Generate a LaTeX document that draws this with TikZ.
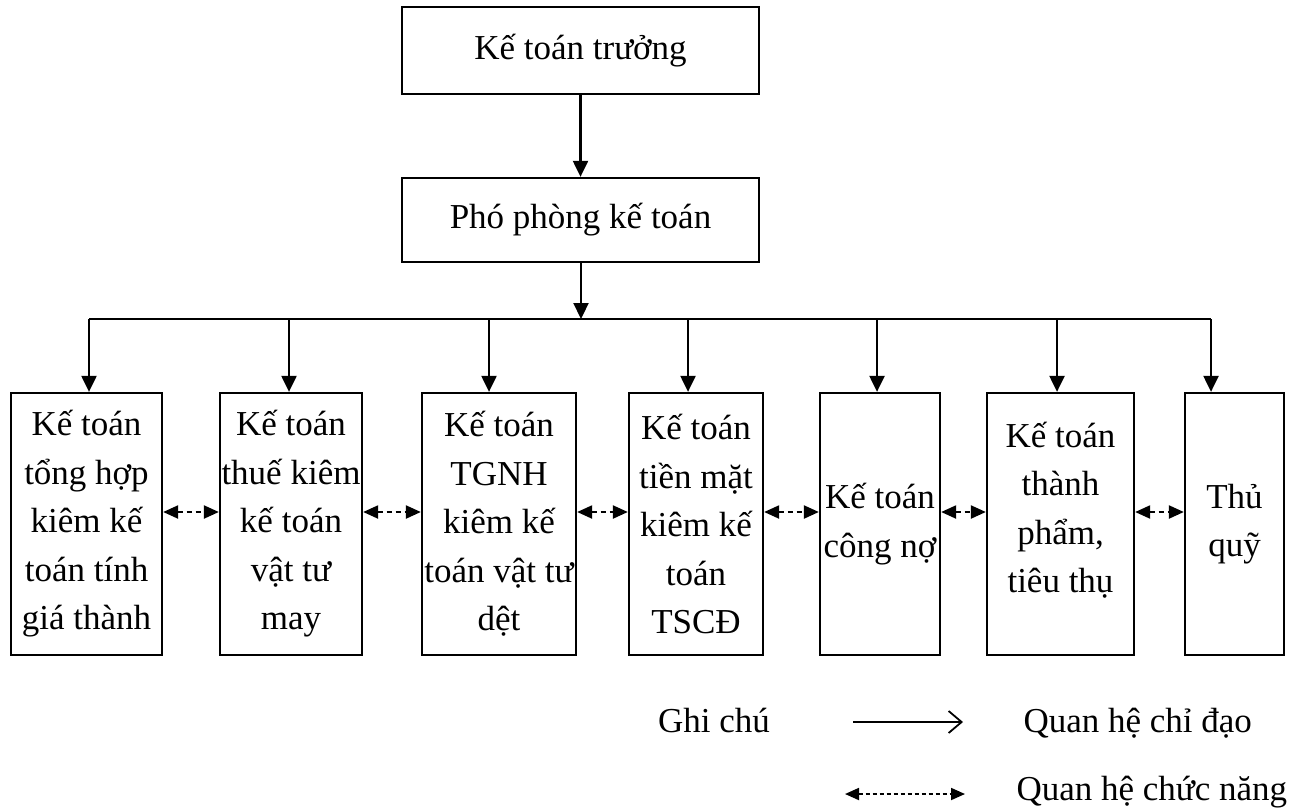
\documentclass[tikz,border=0pt]{standalone}
\usepackage{fontspec}
\setmainfont{Liberation Serif}
\usetikzlibrary{arrows.meta}
\begin{document}
\begin{tikzpicture}[x=1pt,y=-1pt,
  txt/.style={font=\fontsize{35}{48.5}\selectfont},
  unit/.style={draw,line width=2.3pt,inner sep=0pt,align=center,txt,
    minimum height=262pt},
  head/.style={draw,line width=2.3pt,inner sep=0pt,txt,
    minimum width=357pt},
  lead/.style={line width=2.2pt,-{Triangle[width=15pt,length=16pt]}},
  link/.style={line width=2.2pt,dash pattern=on 5pt off 4pt,
    {Triangle[width=13pt,length=15pt]}-{Triangle[width=13pt,length=15pt]}},
  keylead/.style={line width=1.8pt,-{Straight Barb[width=22pt,length=13pt,line width=1.8pt]}},
  keylink/.style={line width=1.8pt,dash pattern=on 4pt off 3pt,
    {Triangle[width=12pt,length=14pt]}-{Triangle[width=12pt,length=14pt]}},
]
\useasboundingbox (0,0) rectangle (1289,807);

% management
\node[head,minimum height=87pt] (ktt) at (580.5,50.5) {Kế toán trưởng};
\node[head,minimum height=84pt] (pho) at (580.5,220) {Phó phòng kế toán};

% accounting units
\node[unit,minimum width=151pt] (b1) at (86.5,524)
  {Kế toán\\tổng hợp\\kiêm kế\\toán tính\\giá thành};
\node[unit,minimum width=142pt] (b2) at (291,524)
  {Kế toán\\thuế kiêm\\kế toán\\vật tư\\may};
\node[unit,minimum width=154pt] (b3) at (499,524)
  {Kế toán\\TGNH\\kiêm kế\\toán vật tư\\dệt};
\node[unit,minimum width=134pt] (b4) at (696,524)
  {Kế toán\\tiền mặt\\kiêm kế\\toán\\TSCĐ};
\node[unit,minimum width=120pt] (b5) at (880,524)
  {Kế toán\\công nợ};
\node[unit,minimum width=147pt] (b6) at (1060.5,524) {};
\node[txt,align=center,inner sep=0pt] (b6text) at ([yshift=14pt]b6.center)
  {Kế toán\\thành\\phẩm,\\tiêu thụ};
\node[unit,minimum width=99pt] (b7) at (1234.5,524)
  {Thủ\\quỹ};

% distribution bus
\coordinate (bus) at (581,319);
\coordinate (t1) at (89,319);
\coordinate (t2) at (289,319);
\coordinate (t3) at (489,319);
\coordinate (t4) at (688,319);
\coordinate (t5) at (877,319);
\coordinate (t6) at (1057,319);
\coordinate (t7) at (1211,319);

\draw[lead] (ktt.south) -- (pho.north);
\draw[lead] (pho.south -| bus) -- (bus);
\draw[line width=2.2pt] (t1) -- (t7);
\foreach \i in {1,...,7}{
  \draw[lead] (t\i) -- (t\i |- b\i.north);
}

% functional links between neighbours
\foreach \a/\b in {b1/b2,b2/b3,b3/b4,b4/b5,b5/b6,b6/b7}{
  \draw[link] ([yshift=12pt]\a.east) -- ([yshift=12pt]\b.west);
}

% key
\node[txt,anchor=base] (note) at (714,732) {Ghi chú};
\coordinate (k1a) at (853,722);
\coordinate (k1b) at (963,722);
\draw[keylead] (k1a) -- (k1b);
\node[txt,anchor=base west] (k1) at (1020,732) {Quan hệ chỉ đạo};
\coordinate (k2a) at (845,794);
\coordinate (k2b) at (965,794);
\draw[keylink] (k2a) -- (k2b);
\node[txt,anchor=base west] (k2) at (1013,800) {Quan hệ chức năng};
\end{tikzpicture}
\end{document}
